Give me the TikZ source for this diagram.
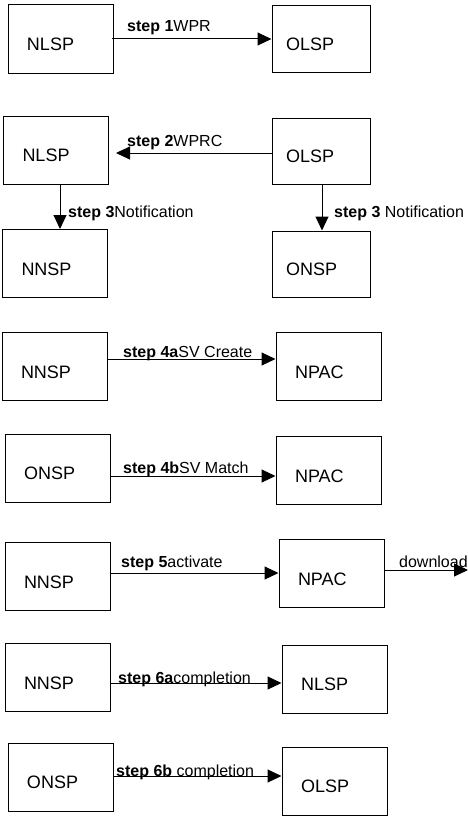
\documentclass[tikz,border=0pt]{standalone}
\usepackage{fontspec}
\setmainfont{Liberation Sans}
\usepackage{tikz}
\usetikzlibrary{positioning}
\usetikzlibrary{arrows.meta}
\usetikzlibrary{calc}

\begin{document}
\begin{tikzpicture}[x=1pt, y=-1pt,
  box/.style={draw, line width=1pt, minimum width=105pt, minimum height=68pt, inner xsep=19pt, text width=67pt, align=left, text height=23pt, text depth=0pt, font=\fontsize{18}{21}\selectfont},
  nbox/.style={box, minimum width=98pt, minimum height=66pt, inner xsep=14pt, text width=70pt},
  flow/.style={line width=1pt, -{Triangle[length=14pt,width=13pt]}},
  lbl/.style={anchor=west, inner sep=0pt, text height=12pt, text depth=3.5pt, font=\fontsize{16}{19}\selectfont}]

  \useasboundingbox (0,0) rectangle (468,816);

  \foreach \nm/\x/\y/\name in {nlspA/60.5/39/NLSP, nlspB/56/150/NLSP, nnspB/55/263.5/NNSP,
           nnspC/54.5/366.5/NNSP, npacC/328.5/366.5/NPAC, onspD/57.5/468/ONSP, npacD/328.5/470.5/NPAC,
           nnspE/57.5/576.5/NNSP, npacE/331.5/573.5/NPAC, nnspF/57.5/677.5/NNSP, nlspF/334.5/679/NLSP,
           onspG/60.5/777/ONSP, olspG/334.5/781/OLSP}{
         \node[box] (\nm) at (\x,\y) {\name};
  }

  \foreach \nm/\x/\y/\name in {olspA/321/39/OLSP, olspB/321/151/OLSP, onspB/321/264/ONSP}{
         \node[nbox] (\nm) at (\x,\y) {\name};
  }

  \coordinate (dl) at (468,570);

  \draw[flow] ([xshift=-2]nlspA.east) -- (olspA.west);
  \draw[flow, shorten >=7pt] ([yshift=-2]olspB.west) -- ([yshift=-2]olspB.west -| nlspB.east);
  \draw[flow] ([xshift=4]nlspB.south) -- ([xshift=4]nlspB.south |- nnspB.north);
  \draw[flow] ([xshift=1]olspB.south) -- ([xshift=1]olspB.south |- onspB.north);
  \draw[flow] ([yshift=7.5]nnspC.east) -- ([yshift=7.5]nnspC.east -| npacC.west);
  \draw[flow] ([yshift=-8]onspD.east) -- ([yshift=-8]onspD.east -| npacD.west);
  \draw[flow] ([yshift=3.5]nnspE.east) -- ([yshift=3.5]nnspE.east -| npacE.west);
  \draw[flow] (npacE.east |- dl) -- (dl);
  \draw[flow] ([yshift=-5.5]nnspF.east) -- ([yshift=-5.5]nnspF.east -| nlspF.west);
  \draw[flow] ([yshift=1]onspG.east) -- ([yshift=1]onspG.east -| olspG.west);

  \node[lbl] (s1) at (127,27) {\textbf{step 1}WPR};
  \node[lbl] (s2) at (127,142) {\textbf{step 2}WPRC};
  \node[lbl] (s3l) at (68,213) {\textbf{step 3}Notification};
  \node[lbl] (s3r) at (334,213) {\textbf{step 3} Notification};
  \node[lbl] (s4a) at (123,353) {\textbf{step 4a}SV Create};
  \node[lbl] (s4b) at (123,469) {\textbf{step 4b}SV Match};
  \node[lbl] (s5) at (121,563) {\textbf{step 5}activate};
  \node[lbl] (dlt) at (399,563) {download};
  \node[lbl] (s6a) at (118,679) {\textbf{step 6a}completion};
  \node[lbl] (s6b) at (116,772) {\textbf{step 6b} completion};

\end{tikzpicture}
\end{document}
